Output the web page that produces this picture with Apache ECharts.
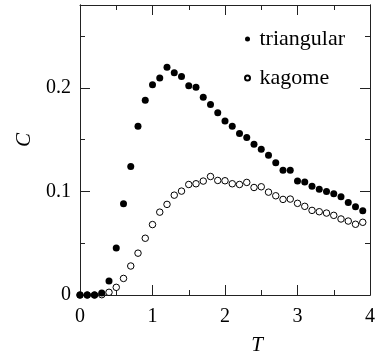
<!DOCTYPE html>
<html>
<head>
<meta charset="utf-8">
<script src="https://cdn.jsdelivr.net/npm/echarts@6/dist/echarts.min.js"></script>
<style>
html,body{margin:0;padding:0;background:#fff;}
#chart{width:378px;height:361px;}
</style>
</head>
<body>
<div id="chart"></div>
<script>
// Temperature grid
var temps = [0,0.1,0.2,0.3,0.4,0.5,0.6,0.7,0.8,0.9,1.0,1.1,1.2,1.3,1.4,1.5,1.6,1.7,1.8,1.9,
             2.0,2.1,2.2,2.3,2.4,2.5,2.6,2.7,2.8,2.9,3.0,3.1,3.2,3.3,3.4,3.5,3.6,3.7,3.8,3.9];
// Specific heat, triangular lattice
var triangular = [0,0,0,0.002,0.0135,0.0455,0.088,0.124,0.163,0.188,0.203,0.2096,0.220,0.2147,0.211,
                  0.202,0.2007,0.191,0.184,0.176,0.168,0.163,0.156,0.152,0.1455,0.1407,0.135,0.1276,
                  0.1205,0.1205,0.110,0.109,0.105,0.102,0.100,0.0978,0.0949,0.0894,0.0853,0.0814];
// Specific heat, kagome lattice
var kagome = [0,0,0,0.0003,0.0026,0.0074,0.016,0.028,0.0404,0.0548,0.068,0.080,0.0875,0.0964,0.1003,
              0.1067,0.1074,0.110,0.1144,0.1106,0.1103,0.1074,0.1067,0.1087,0.1038,0.1045,0.0993,0.0958,
              0.0923,0.0926,0.0885,0.0856,0.0817,0.0804,0.0791,0.0769,0.0734,0.0714,0.0683,0.0702];
var yMajorTicks = [0, 0.1, 0.2];
var yMinorTicks = [0.05, 0.15, 0.25];
var seriesNames = ['triangular', 'kagome'];

var serif = 'Liberation Serif';
var axisCol = '#222';

function pairs(xs, ys){ return xs.map(function(x,i){ return [x, ys[i]]; }); }

function yAx(pos, ticks, len, labels){
  return {
    type:'value', position:pos, min:0, max:0.28,
    axisLine:{show:true, onZero:false, lineStyle:{color:axisCol, width:1}},
    axisTick:{show:true, inside:true, length:len, customValues:ticks, lineStyle:{color:axisCol, width:1}},
    axisLabel:{show:labels, customValues:yMajorTicks, margin:9, color:'#000', fontFamily:serif, fontSize:20,
               formatter:function(v){ return v===0 ? '0' : String(+v.toFixed(2)); }},
    splitLine:{show:false},
    name: labels ? 'C' : '',
    nameLocation:'middle', nameGap:43,
    nameTextStyle:{fontFamily:serif, fontStyle:'italic', fontSize:21, color:'#000', padding:[0,0,0,20]}
  };
}
function xAx(pos, labels){
  return {
    type:'value', position:pos, min:0, max:4, interval:1,
    axisLine:{show:true, onZero:false, lineStyle:{color:axisCol, width:1}},
    axisTick:{show:true, inside:true, length:10, lineStyle:{color:axisCol, width:1}},
    minorTick:{show:true, splitNumber:2, length:5, lineStyle:{color:axisCol, width:1}},
    axisLabel:{show:labels, margin:12, color:'#000', fontFamily:serif, fontSize:20},
    splitLine:{show:false}, minorSplitLine:{show:false},
    name: labels ? 'T' : '',
    nameLocation:'middle', nameGap:40,
    nameTextStyle:{fontFamily:serif, fontStyle:'italic', fontSize:21, color:'#000', padding:[0,0,0,64]}
  };
}

var chart = echarts.init(document.getElementById('chart'), null, {renderer:'canvas'});
chart.setOption({
  animation:false,
  backgroundColor:'#fff',
  grid:{left:80, right:3, top:5, bottom:64, containLabel:false},
  xAxis:[xAx('bottom', true), xAx('top', false)],
  yAxis:[yAx('left', yMajorTicks, 10, true), yAx('left', yMinorTicks, 5, false),
         yAx('right', yMajorTicks, 10, false), yAx('right', yMinorTicks, 5, false)],
  legend:{
    data:seriesNames, orient:'vertical', left:239, top:23, itemGap:17,
    itemWidth:14, itemHeight:5, icon:'circle',
    textStyle:{fontFamily:serif, fontSize:22, color:'#000'}
  },
  series:[
    {name:seriesNames[1], type:'scatter', xAxisIndex:0, yAxisIndex:0, data:pairs(temps, kagome),
     symbol:'circle', symbolSize:6.5, itemStyle:{color:'#fff', borderColor:'#000', borderWidth:1, opacity:1}, z:2},
    {name:seriesNames[0], type:'scatter', xAxisIndex:0, yAxisIndex:0, data:pairs(temps, triangular),
     symbol:'circle', symbolSize:7, itemStyle:{color:'#000', opacity:1}, z:3}
  ]
});
</script>
</body>
</html>
